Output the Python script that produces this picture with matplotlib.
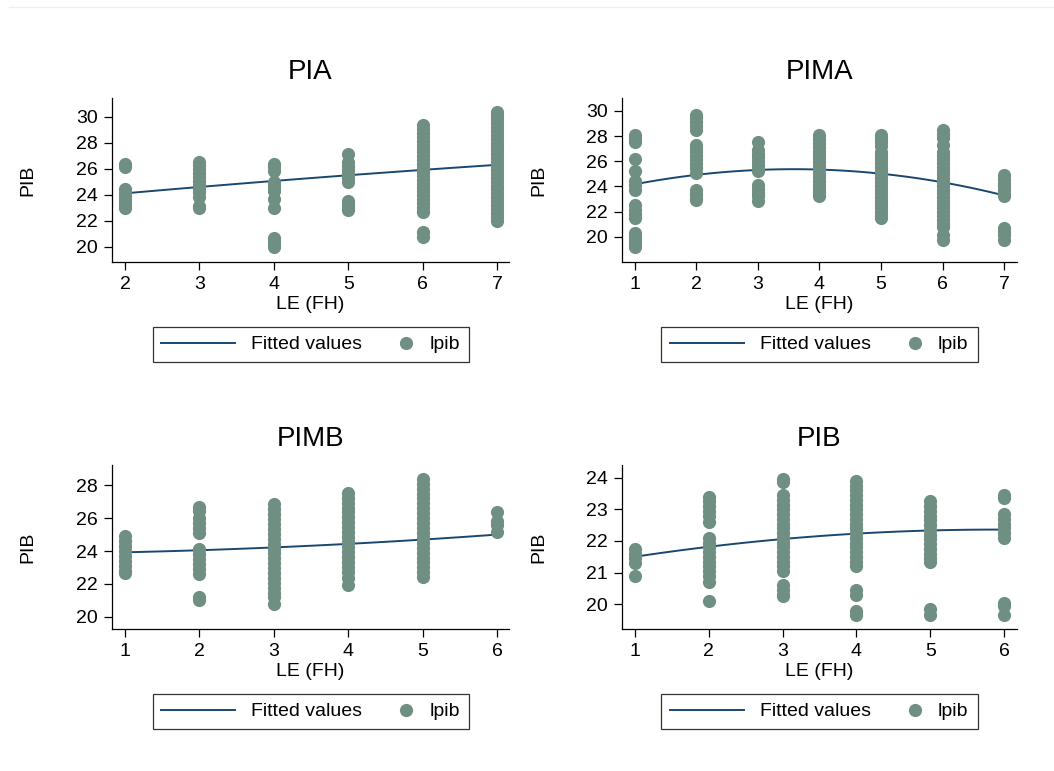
import numpy as np
import matplotlib
matplotlib.use('Agg')
import matplotlib.pyplot as plt
from matplotlib.lines import Line2D
from matplotlib.legend_handler import HandlerLine2D

plt.rcParams['font.family'] = ['Liberation Sans', 'DejaVu Sans']

# data: lpib values per LE (FH) level
pia_x = [2, 3, 4, 5, 6, 7]
pia_pts = {
    2: [26.35, 26.15, 24.4, 24.15, 23.9, 23.65, 23.4, 23.2, 23.0],
    3: [26.55, 26.25, 25.95, 25.65, 25.35, 25.05, 24.75, 24.45, 24.2, 23.85, 23.15, 22.95],
    4: [26.35, 26.1, 25.85, 25.0, 24.75, 24.5, 24.3, 23.65, 23.0, 20.65, 20.4, 20.2, 20.0],
    5: [27.15, 26.5, 26.2, 25.9, 25.6, 25.3, 25.0, 23.55, 23.3, 23.05, 22.8],
    6: [29.35, 29.05, 28.75, 28.45, 28.15, 27.85, 27.55, 27.25, 26.95, 26.65, 26.35,
        26.05, 25.75, 25.45, 25.15, 24.85, 24.55, 24.25, 23.95, 23.65, 23.35, 23.05,
        22.75, 22.65, 21.1, 20.75],
    7: [30.4, 30.1, 29.8, 29.5, 29.2, 28.9, 28.6, 28.3, 28.0, 27.7, 27.4, 27.1, 26.8,
        26.5, 26.2, 25.9, 25.6, 25.3, 25.0, 24.7, 24.4, 24.1, 23.8, 23.5, 23.2, 22.9,
        22.6, 22.3, 22.0],
}
pia_fit = [24.1, 24.6, 25.05, 25.5, 25.9, 26.3]

pima_x = [1, 2, 3, 4, 5, 6, 7]
pima_pts = {
    1: [28.1, 27.8, 27.5, 26.2, 25.2, 24.4, 24.1, 23.75, 22.5, 22.15, 21.8, 21.5,
        20.3, 20.0, 19.7, 19.4, 19.15],
    2: [29.7, 29.4, 29.1, 28.8, 28.45, 27.3, 27.0, 26.7, 26.4, 26.1, 25.8, 25.5,
        25.1, 23.7, 23.4, 23.1, 22.9],
    3: [27.5, 26.9, 26.6, 26.3, 26.0, 25.7, 25.4, 25.2, 24.1, 23.8, 23.5, 23.2, 22.85],
    4: [28.05, 27.75, 27.45, 27.15, 26.85, 26.55, 26.25, 25.95, 25.65, 25.35, 25.05,
        24.75, 24.45, 24.15, 23.85, 23.55, 23.25],
    5: [28.1, 27.8, 27.5, 27.2, 26.75, 26.45, 26.15, 25.85, 25.55, 25.25, 24.95,
        24.65, 24.35, 24.05, 23.75, 23.45, 23.15, 22.85, 22.55, 22.25, 21.95, 21.65, 21.5],
    6: [28.5, 28.2, 27.85, 27.3, 26.75, 26.45, 26.15, 25.85, 25.55, 25.25, 24.95,
        24.65, 24.35, 24.05, 23.75, 23.45, 23.15, 22.85, 22.55, 22.25, 21.95, 21.65,
        21.35, 21.05, 20.8, 20.1, 19.75],
    7: [24.9, 24.6, 24.3, 24.0, 23.7, 23.4, 23.25, 20.7, 20.4, 20.1, 19.75],
}
pima_fit = [24.15, 24.95, 25.3, 25.35, 25.0, 24.3, 23.3]

pimb_x = [1, 2, 3, 4, 5, 6]
pimb_pts = {
    1: [24.9, 24.6, 24.3, 24.0, 23.7, 23.4, 23.1, 22.8, 22.65],
    2: [26.7, 26.45, 26.0, 25.7, 25.4, 25.1, 24.1, 23.8, 23.5, 23.2, 22.9, 22.6, 21.2, 21.0],
    3: [26.85, 26.55, 26.25, 25.95, 25.65, 25.35, 25.05, 24.75, 24.45, 24.15, 23.85,
        23.55, 23.25, 22.95, 22.65, 22.35, 22.05, 21.75, 21.45, 21.2, 20.8],
    4: [27.55, 27.25, 26.95, 26.65, 26.35, 26.05, 25.75, 25.45, 25.15, 24.85, 24.55,
        24.25, 23.95, 23.65, 23.35, 23.05, 22.75, 22.35, 21.9],
    5: [28.4, 28.1, 27.8, 27.5, 27.2, 26.9, 26.6, 26.3, 26.0, 25.7, 25.4, 25.1, 24.8,
        24.5, 24.2, 23.9, 23.6, 23.3, 23.0, 22.7, 22.4],
    6: [26.35, 25.8, 25.6, 25.15],
}
pimb_fit = [23.92, 24.05, 24.22, 24.43, 24.7, 25.0]

pib_x = [1, 2, 3, 4, 5, 6]
pib_pts = {
    1: [21.75, 21.6, 21.45, 21.3, 20.9],
    2: [23.4, 23.25, 23.1, 22.95, 22.8, 22.6, 22.1, 21.95, 21.8, 21.65, 21.5, 21.35,
        21.2, 21.05, 20.9, 20.7, 20.1],
    3: [23.95, 23.85, 23.45, 23.3, 23.15, 23.0, 22.85, 22.7, 22.55, 22.4, 22.25, 22.1,
        21.95, 21.8, 21.65, 21.5, 21.35, 21.2, 21.05, 20.6, 20.45, 20.3, 20.25],
    4: [23.9, 23.75, 23.6, 23.45, 23.3, 23.15, 23.0, 22.85, 22.7, 22.55, 22.4, 22.25,
        22.1, 21.95, 21.8, 21.65, 21.5, 21.35, 21.2, 20.45, 20.3, 19.8, 19.65],
    5: [23.25, 23.1, 22.95, 22.8, 22.65, 22.5, 22.35, 22.2, 22.05, 21.9, 21.75, 21.6,
        21.45, 21.35, 19.85, 19.65],
    6: [23.45, 23.35, 22.85, 22.7, 22.55, 22.4, 22.25, 22.1, 20.05, 19.95, 19.65],
}
pib_fit = [21.5, 21.82, 22.06, 22.23, 22.33, 22.36]

panels = [
    ('PIA', pia_x, pia_pts, pia_fit, [0.1063, 0.6602, 0.3767, 0.2127], (1.825, 7.16), (18.82, 31.44), range(20, 31, 2)),
    ('PIMA', pima_x, pima_pts, pima_fit, [0.5901, 0.6602, 0.3748, 0.2127], (0.79, 7.21), (17.99, 31.03), range(20, 31, 2)),
    ('PIMB', pimb_x, pimb_pts, pimb_fit, [0.1063, 0.1842, 0.3767, 0.2127], (0.825, 6.16), (19.25, 29.24), range(20, 29, 2)),
    ('PIB', pib_x, pib_pts, pib_fit, [0.5901, 0.1842, 0.3748, 0.2127], (0.824, 6.176), (19.22, 24.4), range(20, 25, 1)),
]

line_col = '#1a476f'
dot_col = '#6f8f82'


class MarkerRight(HandlerLine2D):
    # single marker placed near the right end of the handle box
    def get_xdata(self, legend, xdescent, ydescent, width, height, fontsize):
        mx = -xdescent + width - 5
        return np.array([mx - 1, mx + 1]), np.array([mx])


fig = plt.figure(figsize=(10.54, 7.71), dpi=100)
fig.add_artist(Line2D([9 / 1054, 1], [1 - 7 / 771] * 2, color='#eeeeee', lw=1,
                      transform=fig.transFigure))

for title, xs, pts, fit, pos, xl, yl, yt in panels:
    ax = fig.add_axes(pos)
    # quadratic fit curve through the read fitted values
    c = np.polyfit(xs, fit, 2)
    xx = np.linspace(xs[0], xs[-1], 100)
    ax.plot(xx, np.polyval(c, xx), color=line_col, lw=1.4, zorder=2)
    for x in xs:
        ys = pts[x]
        ax.scatter([x] * len(ys), ys, s=90, color=dot_col, linewidths=0, zorder=3)

    ax.set_xlim(*xl)
    ax.set_ylim(*yl)
    ax.set_xticks(xs)
    ax.set_yticks(list(yt))
    for s in ['top', 'right']:
        ax.spines[s].set_visible(False)
    for s in ['left', 'bottom']:
        ax.spines[s].set_linewidth(0.9)
    ax.tick_params(labelsize=14, length=5.5, width=0.9, pad=4.5)

    ax.set_title(title, fontsize=20, pad=13.5)
    ax.set_xlabel('LE (FH)', fontsize=14)
    ax.xaxis.set_label_coords(0.5, -0.205)
    ax.set_ylabel('PIB', fontsize=14)
    ax.yaxis.set_label_coords(-0.19, 0.5)

    h1 = Line2D([], [], color=line_col, lw=1.4)
    h2 = Line2D([], [], color=dot_col, marker='o', ms=9.5, lw=0, mew=0)
    leg = ax.legend([h1, h2], ['Fitted values', 'lpib'], loc='upper center',
                    bbox_to_anchor=(0.5, -0.396), ncol=2, fontsize=14,
                    handlelength=3.8, handletextpad=0.82, columnspacing=-1.18,
                    borderpad=0.46, borderaxespad=0, fancybox=False, frameon=True,
                    handler_map={h2: MarkerRight(numpoints=1)})
    leg.get_frame().set_edgecolor('black')
    leg.get_frame().set_linewidth(0.9)

fig.savefig('out.png', dpi=100)
